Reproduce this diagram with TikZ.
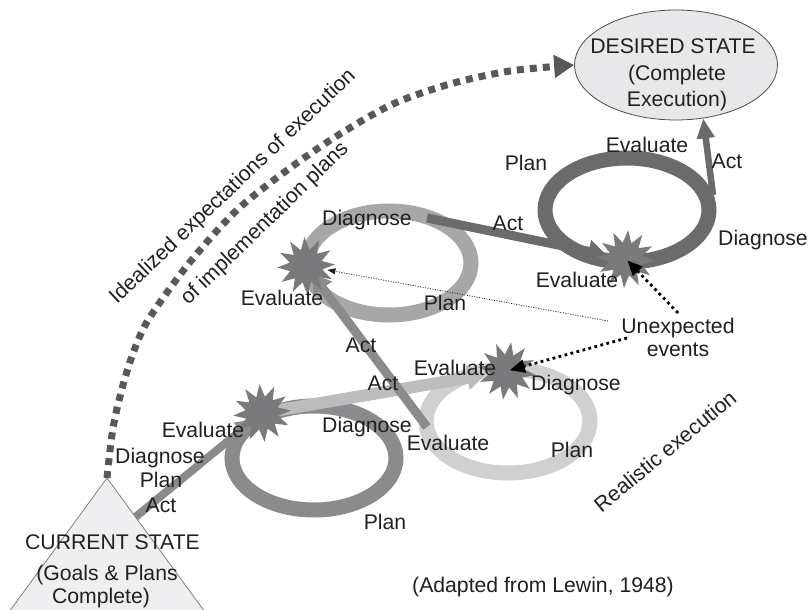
\documentclass[tikz,border=0pt]{standalone}
\usepackage{fontspec}
\setmainfont{Liberation Sans}
\usetikzlibrary{arrows.meta,shapes.geometric}
\definecolor{ink}{HTML}{231F20}
\definecolor{loopA}{HTML}{8B8B8D}
\definecolor{loopB}{HTML}{D0D0D2}
\definecolor{loopC}{HTML}{A7A7A9}
\definecolor{loopD}{HTML}{6B6B6D}
\definecolor{bandc}{HTML}{BCBCBE}
\definecolor{starc}{HTML}{7A7A7C}
\definecolor{idealc}{HTML}{58585A}
\definecolor{trifill}{HTML}{EFEFF1}
\definecolor{ellfill}{HTML}{E8E8EA}
\begin{document}
\begin{tikzpicture}[x=1pt,y=-1pt,
  lbl/.style={font=\fontsize{21.2}{25}\selectfont, anchor=base, inner sep=0pt, text=ink},
  loopnode/.style={ellipse, draw=#1, line width=15pt, minimum width=164pt, minimum height=104pt, inner sep=0pt},
  starnode/.style={star, star points=12, star point ratio=1.75, minimum size=58pt, inner sep=0pt, fill=starc, draw=none},
  fat/.style={draw=#1, line width=9pt, -{Triangle[width=22pt,length=18pt]}},
  evt/.style={draw=black, line width=2.8pt, dash pattern=on 2.8pt off 3.4pt, -{Triangle[width=13pt,length=15pt]}},
  thindot/.style={draw=ink, line width=0.8pt, dash pattern=on 1pt off 1.5pt, -{Triangle[width=6pt,length=8pt]}},
  ideal/.style={draw=idealc, line width=7pt, dash pattern=on 7pt off 6pt, -{Triangle[width=22pt,length=20pt]}}
]
\useasboundingbox (0,0) rectangle (808,610);
\clip (0,0) rectangle (808,610);

% current state triangle
\coordinate (apex) at (107,478);
\draw[draw=gray, fill=trifill, line width=0.8pt] (apex) -- (-0.5,625) -- (214.5,625) -- cycle;

% desired state ellipse
\node[ellipse, draw=ink!80, fill=ellfill, line width=0.8pt, minimum width=203pt, minimum height=110pt, inner sep=0pt] (desired) at (676,65) {};

% loops
\node[loopnode=loopB] (L2) at (508,421) {};
\node[loopnode=loopA] (L1) at (314,458) {};
\node[loopnode=loopC] (L3) at (389,263) {};
\node[loopnode=loopD] (L4) at (627,210) {};

% star positions
\coordinate (p1) at (262,413);
\coordinate (p2) at (507,371);
\coordinate (p3) at (306,266);
\coordinate (p4) at (626,259);

% connector anchors
\coordinate (a1s) at (135.5,517);
\coordinate (a3s) at (427,427);
\coordinate (a4s) at (427,218);
\coordinate (a5s) at (713,195);

% thick arrows
\draw[fat=loopA, line width=8pt, -{Triangle[width=20pt,length=18pt]}, shorten >=10pt] (a1s) -- (p1);
\draw[fat=bandc, line width=12pt, -{Triangle[width=24pt,length=18pt]}, shorten >=22pt] (p1) -- (p2);
\draw[fat=loopA, shorten >=10pt] (a3s) -- (p3);
\draw[fat=loopD, shorten >=20pt] (a4s) -- (p4);
\draw[fat=loopD, line width=6.5pt, -{Triangle[width=17pt,length=20pt]}] (a5s) -- (desired.-63);

% idealized dotted path
\draw[ideal] plot[smooth, tension=0.5] coordinates {(apex) (113,428) (123,385) (135,348) (150,317) (190,262) (237,210) (290,168) (340,134) (393,104) (450,84) (510,71) (desired.west)};

% stars
\node[starnode, rotate=5] (s1) at (p1) {};
\node[starnode, rotate=-8] (s2) at (p2) {};
\node[starnode, rotate=3] (s3) at (p3) {};
\node[starnode, rotate=-4] (s4) at (p4) {};

% unexpected events
\node[lbl] (ue) at (678,333) {Unexpected};
\node[lbl] (ev) at (678,356) {events};
\coordinate (u1) at (678,313);
\coordinate (u2) at (627,338);
\coordinate (u3) at (608,321);
\draw[evt, shorten >=2pt] (u1) -- (s4.center);
\draw[evt, shorten >=3pt] (u2) -- (s2.center);
\draw[thindot, shorten >=4pt] (u3) -- (s3);

% state texts
\node[lbl] (cs1) at (112.5,549) {CURRENT STATE};
\node[lbl] (cs2) at (107,580) {(Goals \& Plans};
\node[lbl] (cs3) at (101,603) {Complete)};
\node[lbl] (ds1) at (673,54) {DESIRED STATE};
\node[lbl] (ds2) at (677,80) {(Complete};
\node[lbl] (ds3) at (677,106) {Execution)};

% step labels
\node[lbl] (t1) at (203,437) {Evaluate};
\node[lbl] (t2) at (160,463) {Diagnose};
\node[lbl] (t3) at (161,487) {Plan};
\node[lbl] (t4) at (161,512) {Act};
\node[lbl] (t5) at (367,432) {Diagnose};
\node[lbl] (t6) at (385,529) {Plan};
\node[lbl] (t7) at (361,352) {Act};
\node[lbl] (t8) at (383,390) {Act};
\node[lbl] (t9) at (455,375) {Evaluate};
\node[lbl] (t10) at (576,390) {Diagnose};
\node[lbl] (t11) at (448,450) {Evaluate};
\node[lbl] (t12) at (572,457) {Plan};
\node[lbl] (t13) at (367,225) {Diagnose};
\node[lbl] (t14) at (282,305) {Evaluate};
\node[lbl] (t15) at (445,310) {Plan};
\node[lbl] (t16) at (508,230) {Act};
\node[lbl] (t17) at (577,287) {Evaluate};
\node[lbl] (t18) at (526,170) {Plan};
\node[lbl] (t19) at (647,152) {Evaluate};
\node[lbl] (t20) at (727,168) {Act};
\node[lbl] (t21) at (763,245) {Diagnose};

% rotated captions
\node[lbl, anchor=center, rotate=43.5] (id1) at (233,187) {Idealized expectations of execution};
\node[lbl, anchor=center, rotate=44] (id2) at (265,224) {of implementation plans};
\node[lbl, anchor=center, rotate=39.5] (re) at (665,451) {Realistic execution};
\node[lbl] (src) at (543,592) {(Adapted from Lewin, 1948)};
\end{tikzpicture}
\end{document}
